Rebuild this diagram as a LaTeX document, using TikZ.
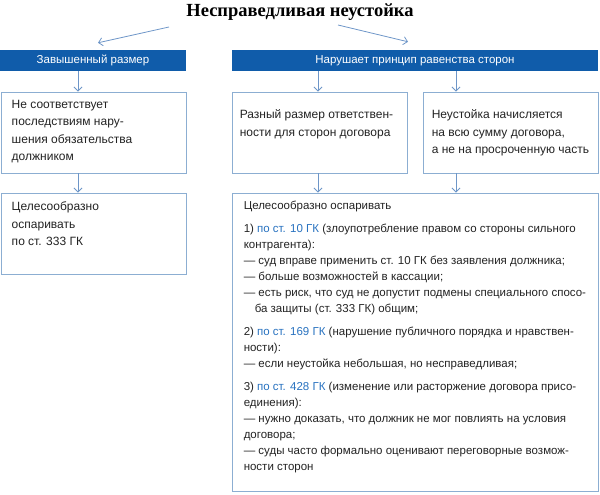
\documentclass[tikz,border=0pt]{standalone}
\usepackage{fontspec}
\setmainfont{Liberation Sans}
\newfontfamily\titlefont{Liberation Serif}
\usepackage{xcolor}
\usetikzlibrary{arrows, arrows.meta, positioning, calc, shadows}
\definecolor{barblue}{RGB}{16,92,170}
\definecolor{linkblue}{RGB}{40,114,192}
\definecolor{edgeblue}{RGB}{140,174,210}
\definecolor{arrowblue}{RGB}{110,150,200}
\definecolor{bodytext}{RGB}{35,35,35}
\tikzstyle{arrow} = [draw=arrowblue, line width=0.8pt, ->, >={Straight Barb[length=4pt,width=8pt]}]
\tikzstyle{bar} = [fill=barblue, text=white, minimum height=21pt, inner sep=0pt, font=\fontsize{11.5}{14}\selectfont]
\tikzstyle{box} = [draw=edgeblue, fill=white, line width=0.9pt, minimum height=81pt, inner sep=0pt,
    drop shadow={opacity=0.18, shadow xshift=1.2pt, shadow yshift=-1.2pt}]
\tikzstyle{txt} = [align=left, inner sep=0pt, text=bodytext, font=\fontsize{12}{17.5}\selectfont]
\newcommand{\gk}[1]{\textcolor{linkblue}{#1}}

\begin{document}
\begin{tikzpicture}[x=1pt, y=-1pt]
    \useasboundingbox (0,0) rectangle (600,495);

    % Title
    \node[font=\titlefont\bfseries\fontsize{18.5}{20}\selectfont] (title) at (300,12) {Несправедливая неустойка};

    % Headers
    \node[bar, minimum width=186pt] (hl) at (93,60.5) {Завышенный размер};
    \node[bar, minimum width=366pt] (hr) at (415,60.5) {Нарушает принцип равенства сторон};

    % Boxes
    \node[box, minimum width=185pt] (l1) at (93.5,132.5) {};
    \node[box, minimum width=175pt] (m1) at (319.5,132.5) {};
    \node[box, minimum width=175pt] (r1) at (510.5,132.5) {};
    \node[box, minimum width=185pt] (l2) at (93.5,233.5) {};
    \node[box, minimum width=366pt, minimum height=298pt] (m2) at (415,342) {};

    % Texts
    \node[txt, below right=8pt and 11pt of l1.north west] (l1t) {Не соответствует\\последствиям нару-\\шения обязательства\\должником};
    \node[txt, below right=18pt and 8pt of m1.north west] (m1t) {Разный размер ответствен-\\ности для сторон договора};
    \node[txt, below right=18pt and 9pt of r1.north west] (r1t) {Неустойка начисляется\\на всю сумму договора,\\а не на просроченную часть};
    \node[txt, below right=9pt and 11pt of l2.north west] (l2t) {Целесообразно\\оспаривать\\по ст. 333 ГК};
    \node[txt, font=\fontsize{11.5}{16}\selectfont, below right=8pt and 12pt of m2.north west] (m2t) {Целесообразно оспаривать\\[7pt]
        1) \gk{по ст. 10 ГК} (злоупотребление правом со стороны сильного\\
        контрагента):\\
        — суд вправе применить ст. 10 ГК без заявления должника;\\
        — больше возможностей в кассации;\\
        — есть риск, что суд не допустит подмены специального спосо-\\
        \hspace*{11pt}ба защиты (ст. 333 ГК) общим;\\[7pt]
        2) \gk{по ст. 169 ГК} (нарушение публичного порядка и нравствен-\\
        ности):\\
        — если неустойка небольшая, но несправедливая;\\[7pt]
        3) \gk{по ст. 428 ГК} (изменение или расторжение договора присо-\\
        единения):\\
        — нужно доказать, что должник не мог повлиять на условия\\
        договора;\\
        — суды часто формально оценивают переговорные возмож-\\
        ности сторон};

    % Arrows
    \coordinate (tl) at (169,27);
    \coordinate (tr) at (338,25);
    \coordinate (la) at (78,0);
    \coordinate (ma) at (318,0);
    \coordinate (ra) at (456,0);
    \draw[arrow] (tl) -- ([xshift=5pt,yshift=7pt]hl.north);
    \draw[arrow] (tr) -- ([xshift=-7pt,yshift=8pt]hr.north);
    \draw[arrow] (la |- hl.south) -- (la |- l1.north);
    \draw[arrow] (ma |- hr.south) -- (ma |- m1.north);
    \draw[arrow] (ra |- hr.south) -- (ra |- r1.north);
    \draw[arrow] (la |- l1.south) -- (la |- l2.north);
    \draw[arrow] (ma |- m1.south) -- (ma |- m2.north);
    \draw[arrow] (ra |- r1.south) -- (ra |- m2.north);
\end{tikzpicture}
\end{document}
